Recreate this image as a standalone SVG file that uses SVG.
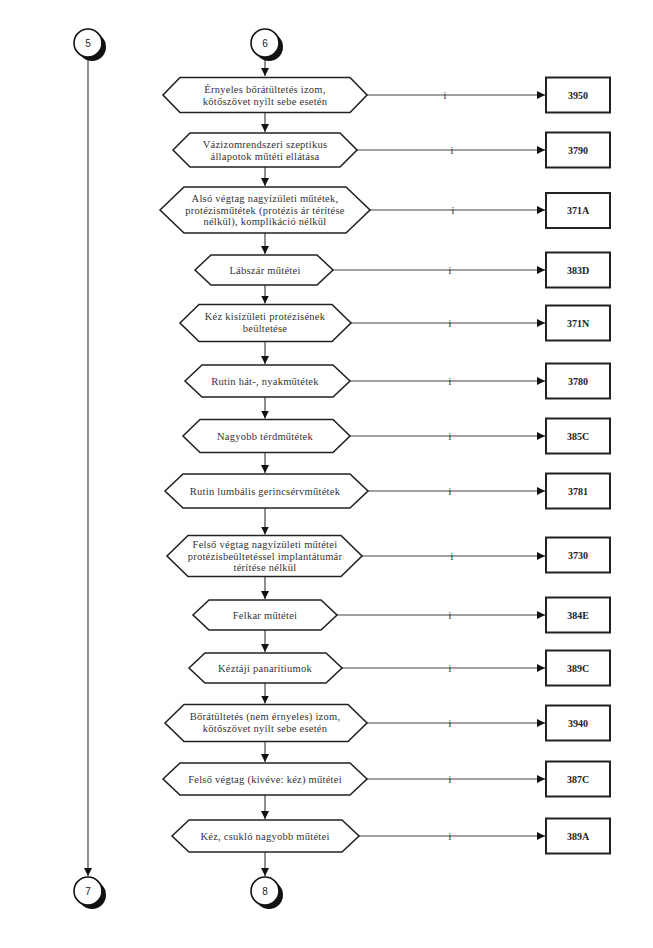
<svg xmlns="http://www.w3.org/2000/svg" width="653" height="948" viewBox="0 0 653 948">
<defs>
<marker id="ah" markerUnits="userSpaceOnUse" markerWidth="9" markerHeight="9" refX="8" refY="4" orient="auto">
<path d="M0,0 L8,4 L0,8 z" fill="#111"/>
</marker>
<style>
.hex{fill:#fff;stroke:#222;stroke-width:1.6;stroke-linejoin:miter}
.box{fill:#fff;stroke:#222;stroke-width:2}
.conn{fill:none;stroke:#444;stroke-width:1.2;marker-end:url(#ah)}
.t{font-family:'Liberation Serif','DejaVu Serif',serif;font-size:10.5px;fill:#333;text-anchor:middle;letter-spacing:0.25px}
.b{font-family:'Liberation Serif','DejaVu Serif',serif;font-size:10px;font-weight:bold;fill:#222;text-anchor:middle}
.i{font-family:'Liberation Serif','DejaVu Serif',serif;font-size:10px;fill:#222;text-anchor:middle}
.c{font-family:'Liberation Sans',Arial,sans-serif;font-size:10px;fill:#222;text-anchor:middle}
.cs{fill:#111}
.cw{fill:#fff;stroke:#111;stroke-width:1.6}
</style>
</defs>
<rect width="653" height="948" fill="#fff"/>

<g id="connectors">
<path class="conn" d="M88,57 V876"/>
<path class="conn" d="M265,57 V76"/>
<path class="conn" d="M265,112.5 V132"/>
<path class="conn" d="M265,167 V186"/>
<path class="conn" d="M265,233 V254"/>
<path class="conn" d="M265,285 V303.5"/>
<path class="conn" d="M265,341.5 V364"/>
<path class="conn" d="M265,397 V418.5"/>
<path class="conn" d="M265,452.5 V473"/>
<path class="conn" d="M265,508 V534.5"/>
<path class="conn" d="M265,576.5 V599"/>
<path class="conn" d="M265,630 V652"/>
<path class="conn" d="M265,683 V703.5"/>
<path class="conn" d="M265,741.5 V762"/>
<path class="conn" d="M265,795 V819"/>
<path class="conn" d="M265,852 V876"/>
<path class="conn" d="M367,95 H545"/>
<path class="conn" d="M357,150 H545"/>
<path class="conn" d="M370,210 H545"/>
<path class="conn" d="M333,270 H545"/>
<path class="conn" d="M351,323 H545"/>
<path class="conn" d="M350,381 H545"/>
<path class="conn" d="M350,436 H545"/>
<path class="conn" d="M368,491 H545"/>
<path class="conn" d="M362,556 H545"/>
<path class="conn" d="M337,615 H545"/>
<path class="conn" d="M342,668 H545"/>
<path class="conn" d="M367,723 H545"/>
<path class="conn" d="M367,779 H545"/>
<path class="conn" d="M359,836 H545"/>
<text class="i" x="445" y="98.5">i</text>
<text class="i" x="452" y="153.5">i</text>
<text class="i" x="453" y="213.5">i</text>
<text class="i" x="450" y="273.5">i</text>
<text class="i" x="450" y="326.5">i</text>
<text class="i" x="450" y="384.5">i</text>
<text class="i" x="450" y="439.5">i</text>
<text class="i" x="450" y="494.5">i</text>
<text class="i" x="452" y="559.5">i</text>
<text class="i" x="450" y="618.5">i</text>
<text class="i" x="450" y="671.5">i</text>
<text class="i" x="450" y="726.5">i</text>
<text class="i" x="450" y="782.5">i</text>
<text class="i" x="450" y="839.5">i</text>
</g>

<g id="c5"><circle class="cs" cx="92" cy="47" r="14"/><circle class="cw" cx="88" cy="43" r="14"/><text class="c" x="88" y="47">5</text></g>
<g id="c6"><circle class="cs" cx="269" cy="47" r="14"/><circle class="cw" cx="265" cy="43" r="14"/><text class="c" x="265" y="47">6</text></g>
<g id="c7"><circle class="cs" cx="92" cy="895" r="14"/><circle class="cw" cx="88" cy="891" r="14"/><text class="c" x="88" y="895">7</text></g>
<g id="c8"><circle class="cs" cx="269" cy="895" r="14"/><circle class="cw" cx="265" cy="891" r="14"/><text class="c" x="265" y="895">8</text></g>

<g id="h1"><polygon class="hex" points="163,95 180,77.5 350,77.5 367,95 350,112.5 180,112.5"/>
<text class="t" x="265" y="93">Érnyeles bőrátültetés izom,</text><text class="t" x="265" y="104.5">kötőszövet nyílt sebe esetén</text></g>
<g id="h2"><polygon class="hex" points="173,150 190,133 340,133 357,150 340,167 190,167"/>
<text class="t" x="265" y="148">Vázizomrendszeri szeptikus</text><text class="t" x="265" y="159.5">állapotok műtéti ellátása</text></g>
<g id="h3"><polygon class="hex" points="160,210 184,187 346,187 370,210 346,233 184,233"/>
<text class="t" x="265" y="202">Alsó végtag nagyízületi  műtétek,</text><text class="t" x="265" y="213.5">protézisműtétek (protézis ár térítése</text><text class="t" x="265" y="225">nélkül), komplikáció nélkül</text></g>
<g id="h4"><polygon class="hex" points="195,270 211,255 317,255 333,270 317,285 211,285"/>
<text class="t" x="265" y="273.5">Lábszár műtétei</text></g>
<g id="h5"><polygon class="hex" points="180,323 199,304.5 332,304.5 351,323 332,341.5 199,341.5"/>
<text class="t" x="265" y="320">Kéz kisízületi protézisének</text><text class="t" x="265" y="331.5">beültetése</text></g>
<g id="h6"><polygon class="hex" points="185,381 202,365 333,365 350,381 333,397 202,397"/>
<text class="t" x="265" y="384.5">Rutin hát-, nyakműtétek</text></g>
<g id="h7"><polygon class="hex" points="183,436 200,419.5 333,419.5 350,436 333,452.5 200,452.5"/>
<text class="t" x="265" y="439.5">Nagyobb térdműtétek</text></g>
<g id="h8"><polygon class="hex" points="165,491 183,474 350,474 368,491 350,508 183,508"/>
<text class="t" x="265" y="494.5">Rutin lumbális gerincsérvműtétek</text></g>
<g id="h9"><polygon class="hex" points="167,556 188,535.5 341,535.5 362,556 341,576.5 188,576.5"/>
<text class="t" x="265" y="548">Felső végtag nagyízületi műtétei</text><text class="t" x="265" y="559.5">protézisbeültetéssel implantátumár</text><text class="t" x="265" y="571">térítése nélkül</text></g>
<g id="h10"><polygon class="hex" points="193,615 209,600 321,600 337,615 321,630 209,630"/>
<text class="t" x="265" y="618.5">Felkar műtétei</text></g>
<g id="h11"><polygon class="hex" points="189,668 205,653 326,653 342,668 326,683 205,683"/>
<text class="t" x="265" y="671.5">Kéztáji panaritiumok</text></g>
<g id="h12"><polygon class="hex" points="165,723 184,704.5 348,704.5 367,723 348,741.5 184,741.5"/>
<text class="t" x="265" y="720">Bőrátültetés (nem érnyeles) izom,</text><text class="t" x="265" y="731.5">kötőszövet nyílt sebe esetén</text></g>
<g id="h13"><polygon class="hex" points="163,779 180,763 350,763 367,779 350,795 180,795"/>
<text class="t" x="265" y="782.5">Felső végtag (kivéve: kéz) műtétei</text></g>
<g id="h14"><polygon class="hex" points="172,836 189,820 342,820 359,836 342,852 189,852"/>
<text class="t" x="265" y="839.5">Kéz, csukló nagyobb műtétei</text></g>

<g id="b1"><rect class="box" x="546" y="77.5" width="64" height="35"/><text class="b" x="578" y="98.5">3950</text></g>
<g id="b2"><rect class="box" x="546" y="132.5" width="64" height="35"/><text class="b" x="578" y="153.5">3790</text></g>
<g id="b3"><rect class="box" x="546" y="193" width="64" height="35"/><text class="b" x="578" y="214">371A</text></g>
<g id="b4"><rect class="box" x="546" y="252.5" width="64" height="35"/><text class="b" x="578" y="273.5">383D</text></g>
<g id="b5"><rect class="box" x="546" y="305.5" width="64" height="35"/><text class="b" x="578" y="326.5">371N</text></g>
<g id="b6"><rect class="box" x="546" y="363.5" width="64" height="35"/><text class="b" x="578" y="384.5">3780</text></g>
<g id="b7"><rect class="box" x="546" y="418.5" width="64" height="35"/><text class="b" x="578" y="439.5">385C</text></g>
<g id="b8"><rect class="box" x="546" y="473.5" width="64" height="35"/><text class="b" x="578" y="494.5">3781</text></g>
<g id="b9"><rect class="box" x="546" y="537.5" width="64" height="35"/><text class="b" x="578" y="558.5">3730</text></g>
<g id="b10"><rect class="box" x="546" y="597.5" width="64" height="35"/><text class="b" x="578" y="618.5">384E</text></g>
<g id="b11"><rect class="box" x="546" y="650.5" width="64" height="35"/><text class="b" x="578" y="671.5">389C</text></g>
<g id="b12"><rect class="box" x="546" y="705.5" width="64" height="35"/><text class="b" x="578" y="726.5">3940</text></g>
<g id="b13"><rect class="box" x="546" y="761.5" width="64" height="35"/><text class="b" x="578" y="782.5">387C</text></g>
<g id="b14"><rect class="box" x="546" y="818.5" width="64" height="35"/><text class="b" x="578" y="839.5">389A</text></g>
</svg>
